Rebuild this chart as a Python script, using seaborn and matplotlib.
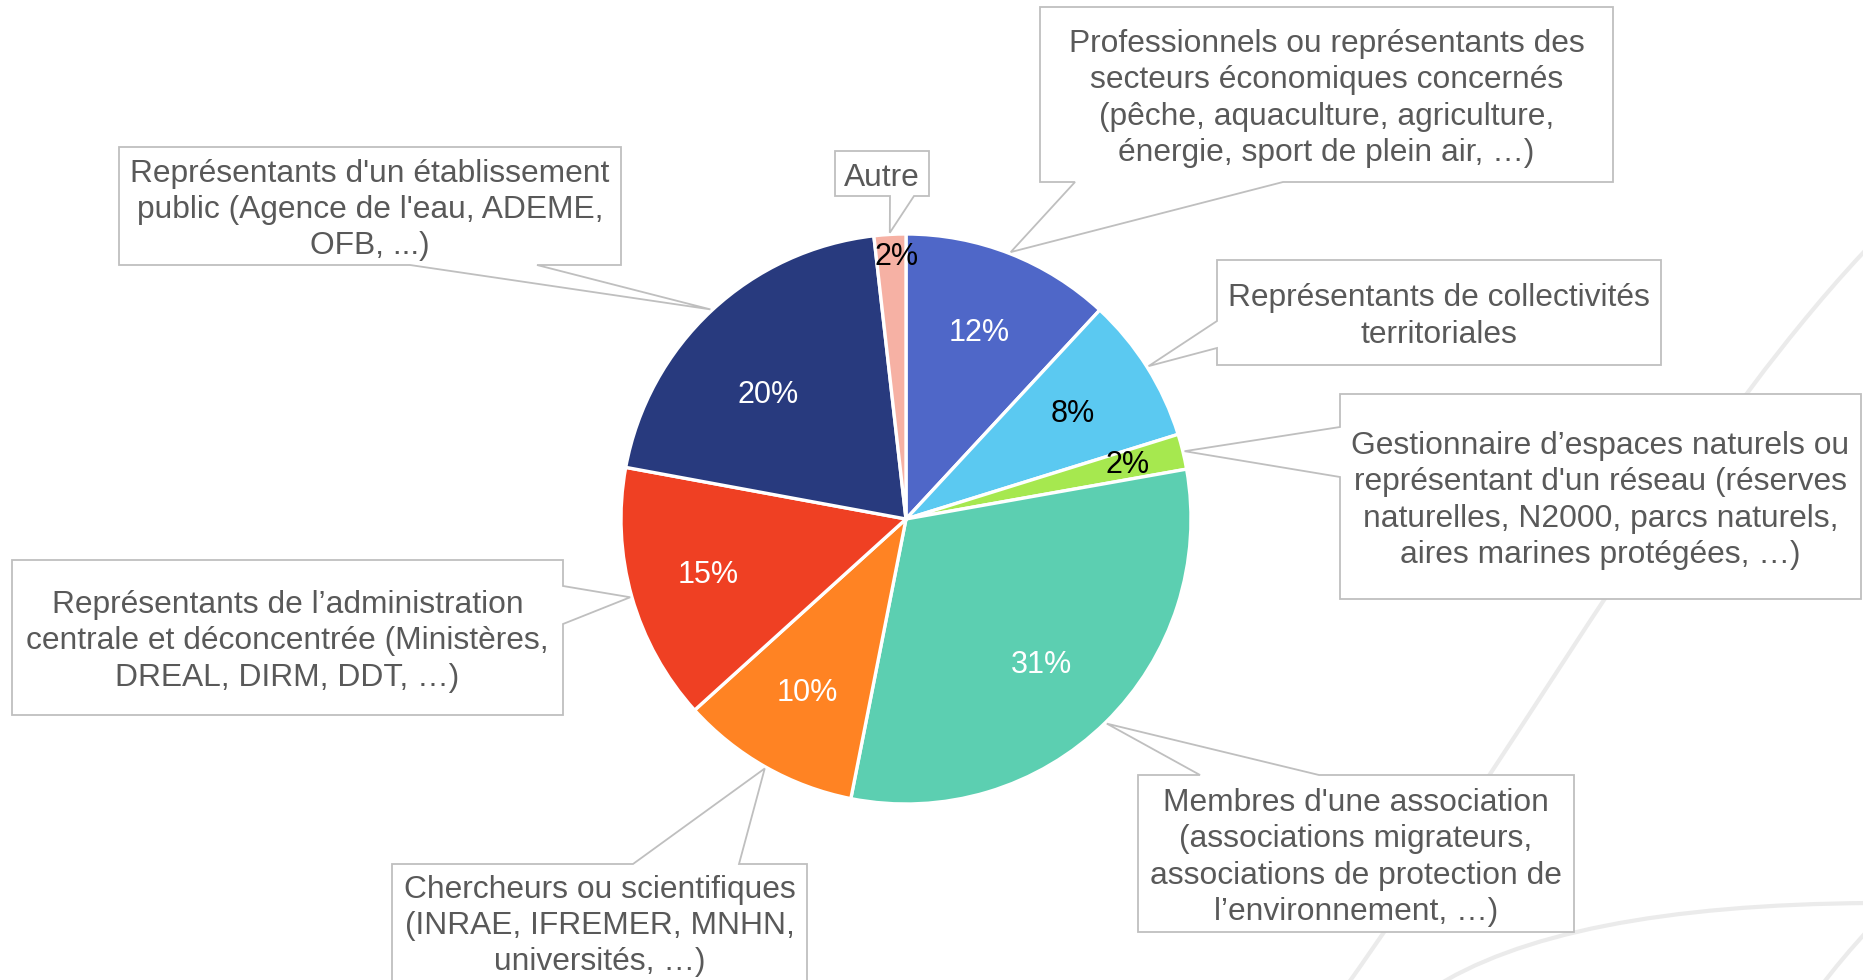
import numpy as np
import matplotlib
matplotlib.use("Agg")
import matplotlib.pyplot as plt
from matplotlib.patches import Polygon, PathPatch
from matplotlib.path import Path
import seaborn as sns

# ---------------- data ----------------
categories = [
    "Professionnels ou représentants des\nsecteurs économiques concernés\n(pêche, aquaculture, agriculture,\nénergie, sport de plein air, …)",
    "Représentants de collectivités\nterritoriales",
    "Gestionnaire d’espaces naturels ou\nreprésentant d'un réseau (réserves\nnaturelles, N2000, parcs naturels,\naires marines protégées, …)",
    "Membres d'une association\n(associations migrateurs,\nassociations de protection de\nl’environnement, …)",
    "Chercheurs ou scientifiques\n(INRAE, IFREMER, MNHN,\nuniversités, …)",
    "Représentants de l’administration\ncentrale et déconcentrée (Ministères,\nDREAL, DIRM, DDT, …)",
    "Représentants d'un établissement\npublic (Agence de l'eau, ADEME,\nOFB, ...)",
    "Autre",
]
shares = [11.9, 8.3, 2.0, 30.9, 10.2, 14.6, 20.3, 1.8]
colors = ["#4F67C8", "#5BC9F1", "#A6E84F", "#5CCFB1",
          "#FF8323", "#EF4023", "#283A7E", "#F6B1A4"]
pct_colors = ["white", "black", "black", "white", "white", "white", "white", "black"]

# ---------------- layout (image pixel coords, y downward) ----------------
W, H = 1863, 980
CX, CY, R = 906, 519, 285
pct_radius = [0.70, 0.69, 0.80, 0.70, 0.70, 0.72, 0.65, 0.92]
pct_angle_shift = [0, 0, 0, -1.5, 0, 0, 5, -1.2]
boxes = [
    (1040, 7, 1613, 182, "bottom", (1075, 1283)),
    (1217, 260, 1661, 365, "left", (321, 348)),
    (1340, 394, 1861, 599, "left", (427, 477)),
    (1138, 775, 1574, 932, "top", (1200, 1319)),
    (392, 864, 807, 1010, "top", (633, 739)),
    (12, 560, 563, 715, "right", (586, 624)),
    (119, 147, 621, 265, "bottom", (410, 537)),
    (835, 151, 929, 196, "bottom", (890, 914)),
]
text_y_override = {4: 926}
text_dy = 4

sns.set_theme(style="white")
plt.rcParams["font.family"] = ["Liberation Sans", "DejaVu Sans"]
palette = sns.color_palette(colors)

fig = plt.figure(figsize=(W / 100, H / 100), dpi=100)
ax = fig.add_axes([0, 0, 1, 1])


def Y(y):
    return H - y


# decorative faint background curves
deco = [
    ([(1880, 235), (1700, 420), (1550, 700), (1340, 995)],
     [Path.MOVETO, Path.CURVE4, Path.CURVE4, Path.CURVE4]),
    ([(1430, 990), (1560, 905), (1870, 903)],
     [Path.MOVETO, Path.CURVE3, Path.CURVE3]),
    ([(1818, 990), (1842, 958), (1870, 928)],
     [Path.MOVETO, Path.CURVE3, Path.CURVE3]),
]
for pts, codes in deco:
    verts = [(x, Y(y)) for x, y in pts]
    ax.add_patch(PathPatch(Path(verts, codes), facecolor="none",
                           edgecolor="#EBEBEB", lw=3.0, zorder=0,
                           capstyle="butt"))

wedges, _ = ax.pie(shares, colors=palette, startangle=90, counterclock=False,
                   center=(CX, Y(CY)), radius=R,
                   wedgeprops=dict(edgecolor="white", linewidth=2.4))
for w in wedges:
    w.set_zorder(2)

# percentage labels
for i, w in enumerate(wedges):
    mid = np.deg2rad((w.theta1 + w.theta2) / 2 + pct_angle_shift[i])
    f = pct_radius[i]
    ax.text(CX + f * R * np.cos(mid), Y(CY) + f * R * np.sin(mid),
            f"{round(shares[i])}%", ha="center", va="center",
            fontsize=22, color=pct_colors[i], zorder=3)

# callout boxes
for i, (x0, y0, x1, y1, side, (a1, a2)) in enumerate(boxes):
    w = wedges[i]
    mid = np.deg2rad((w.theta1 + w.theta2) / 2)
    tip = (CX + 1.006 * R * np.cos(mid), Y(CY) + 1.006 * R * np.sin(mid))
    tl, tr, br, bl = (x0, y0), (x1, y0), (x1, y1), (x0, y1)
    if side == "top":
        pts = [tl, (a1, y0), None, (a2, y0), tr, br, bl]
    elif side == "right":
        pts = [tl, tr, (x1, a1), None, (x1, a2), br, bl]
    elif side == "bottom":
        pts = [tl, tr, br, (a2, y1), None, (a1, y1), bl]
    else:
        pts = [tl, tr, br, bl, (x0, a2), None, (x0, a1)]
    verts = [tip if p is None else (p[0], Y(p[1])) for p in pts]
    ax.add_patch(Polygon(verts, closed=True, facecolor="white",
                         edgecolor="#BFBFBF", lw=1.3, zorder=4,
                         joinstyle="miter"))
    ty_text = text_y_override.get(i, (y0 + y1) / 2 + text_dy)
    ax.text((x0 + x1) / 2, Y(ty_text), categories[i], ha="center",
            va="center", multialignment="center", fontsize=22.9,
            color="#595959", linespacing=1.27, zorder=5)

ax.set_xlim(0, W)
ax.set_ylim(0, H)
ax.set_aspect("equal")
ax.set_axis_off()

fig.savefig("out.png", dpi=100, facecolor="white")
